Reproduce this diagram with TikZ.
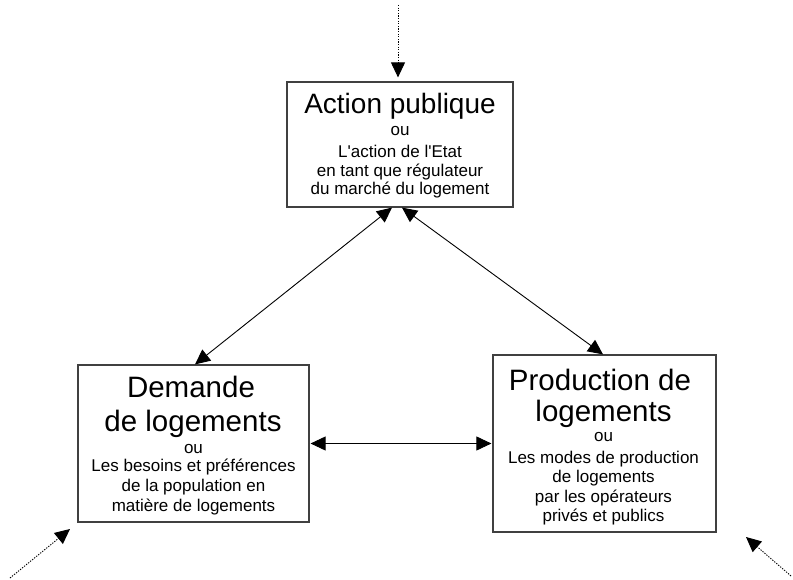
\documentclass[tikz,border=0pt]{standalone}
\usepackage{fontspec}
\setmainfont{Liberation Sans}
\usetikzlibrary{arrows.meta}
\newcommand\titA{\fontsize{28}{32}\selectfont}
\newcommand\titB{\fontsize{29.5}{34}\selectfont}
\newcommand\smt{\fontsize{17}{19}\selectfont}
\begin{document}
\begin{tikzpicture}[x=1pt,y=-1pt,
  box/.style={draw=black!75, line width=1.2pt, fill=white, inner sep=0pt},
  txt/.style={anchor=base, inner sep=0pt, text=black},
  link/.style={line width=0.9pt, {Triangle[length=15pt,width=14pt]}-{Triangle[length=15pt,width=14pt]}},
  feed/.style={line width=0.9pt, dash pattern=on 1.3pt off 1.3pt, -{Triangle[length=15pt,width=14pt]}}]
\useasboundingbox (0,0) rectangle (793,580);
\fill[white] (0,0) rectangle (793,580);
% boxes
\node[box, minimum width=226pt, minimum height=125pt] (act) at (400,144.5) {};
\node[box, minimum width=231pt, minimum height=157pt] (dem) at (193.5,443.5) {};
\node[box, minimum width=223pt, minimum height=177pt] (prod) at (604.5,443.5) {};
% texts top
\node[txt] (a1) at (400,114) {\titA Action publique};
\node[txt] (a2) at (400,136) {\smt ou};
\node[txt] (a3) at (400,158) {\smt L\textquotesingle action de l\textquotesingle Etat};
\node[txt] (a4) at (400,176.5) {\smt en tant que régulateur};
\node[txt] (a5) at (400,195) {\smt du marché du logement};
% texts left
\node[txt] (d1) at (191,397) {\titB Demande};
\node[txt] (d2) at (193,431) {\titB de logements};
\node[txt] (d3) at (193.5,453) {\smt ou};
\node[txt] (d4) at (193.5,471.5) {\smt Les besoins et préférences};
\node[txt] (d5) at (193.5,491.5) {\smt de la population en};
\node[txt] (d6) at (193.5,511) {\smt matière de logements};
% texts right
\node[txt] (p1) at (600,390) {\titB Production de};
\node[txt] (p2) at (603.5,421) {\titB logements};
\node[txt] (p3) at (603.5,441) {\smt ou};
\node[txt] (p4) at (603.5,463) {\smt Les modes de production};
\node[txt] (p5) at (603.5,482) {\smt de logements};
\node[txt] (p6) at (603.5,502) {\smt par les opérateurs};
\node[txt] (p7) at (603.5,521) {\smt privés et publics};
% connectors
\draw[link] ([xshift=-8pt]act.south) -- ([xshift=1.5pt]dem.north);
\draw[link] ([xshift=2pt]act.south) -- ([xshift=-1.5pt]prod.north);
\draw[link] ([xshift=1pt]dem.east) -- ([xshift=-1pt]prod.west);
% incoming dotted arrows
\coordinate (tin) at (398,5);
\coordinate (blin) at (10,578);
\coordinate (bltip) at (70,529);
\coordinate (brin) at (791,576);
\coordinate (brtip) at (746,537);
\draw[feed, shorten >=4pt] (tin) -- ([xshift=-2pt]act.north);
\draw[feed] (blin) -- (bltip);
\draw[feed] (brin) -- (brtip);
\end{tikzpicture}
\end{document}
